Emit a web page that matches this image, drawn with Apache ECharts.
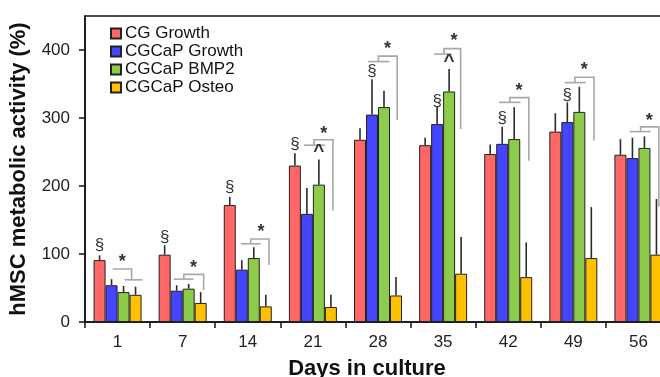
<!DOCTYPE html>
<html>
<head>
<meta charset="utf-8">
<script src="https://cdn.jsdelivr.net/npm/echarts@6/dist/echarts.min.js"></script>
<style>html,body{margin:0;padding:0;background:#fff}#c{width:660px;height:377px}</style>
</head>
<body>
<div id="c"></div>
<script>
const categories = ['1', '7', '14', '21', '28', '35', '42', '49', '56'];
const seriesNames = ['CG Growth', 'CGCaP Growth', 'CGCaP BMP2', 'CGCaP Osteo'];
const cgGrowth = [91, 99, 172, 230, 268, 260, 247, 280, 246];
const cgGrowthErr = [7, 14, 12, 18, 17, 11, 14, 27, 23];
const cgcapGrowth = [54, 46, 77, 159, 305, 291, 262, 294, 241];
const cgcapGrowthErr = [9, 8, 14, 38, 52, 26, 25, 29, 30];
const cgcapBmp2 = [44, 49, 94, 202, 316, 339, 269, 309, 256];
const cgcapBmp2Err = [9, 7, 16, 37, 24, 33, 47, 37, 17];
const cgcapOsteo = [40, 28, 23, 22, 39, 71, 66, 94, 99];
const cgcapOsteoErr = [12, 16, 17, 18, 27, 54, 51, 75, 82];
const yTicks = [0, 100, 200, 300, 400];

// annotations: [categoryIndex, barSlot, value]
const sectionMarks = [[0, 0, 113], [1, 0, 125], [2, 0, 198], [3, 0, 262], [4, 1, 369], [5, 1, 325], [6, 1, 300], [7, 1, 333]];
const caretMarks = [[3, 2, 250], [5, 2, 383]];
const starMarks = [[0, 1.9, 88], [1, 2.4, 79], [2, 2.6, 132], [3, 2.4, 276], [4, 2.3, 401], [5, 2.4, 413], [6, 2.4, 340], [7, 2.4, 370], [8, 2.4, 296]];
// brackets: [categoryIndex, polylines of [barSlot, value]]
const brackets = [
  [0, [[[1.1, 78], [2.67, 78], [2.67, 62]], [[2.08, 62], [3.58, 62]]]],
  [1, [[[0.75, 63], [2.4, 63]], [[1.6, 63], [1.6, 70], [3.25, 70], [3.25, 47]]]],
  [2, [[[0.92, 115], [2.58, 115]], [[1.75, 115], [1.75, 122], [3.27, 122], [3.27, 84]]]],
  [3, [[[0.75, 260], [2.5, 260]], [[1.6, 260], [1.6, 268], [3.17, 268], [3.17, 164]]]],
  [4, [[[0.69, 383], [2.47, 383]], [[1.53, 383], [1.53, 391], [3.1, 391], [3.1, 297]]]],
  [5, [[[0.73, 394], [2.2, 394]], [[1.57, 394], [1.57, 402], [2.96, 402], [2.96, 284]]]],
  [6, [[[0.73, 323], [2.53, 323]], [[1.64, 323], [1.64, 330], [3.22, 330], [3.22, 237]]]],
  [7, [[[0.78, 352], [2.53, 352]], [[1.63, 352], [1.63, 360], [3.22, 360], [3.22, 267]]]],
  [8, [[[0.77, 280], [2.52, 280]], [[1.68, 280], [1.68, 287], [3.2, 287], [3.2, 170]]]]
];

const BAR_W = 12;
const FONT = 'Liberation Sans, Arial, sans-serif';
const colors = ['#FF6666', '#4545FF', '#8CCC4A', '#FFC000'];
const values = [cgGrowth, cgcapGrowth, cgcapBmp2, cgcapOsteo];
const errs = [cgGrowthErr, cgcapGrowthErr, cgcapBmp2Err, cgcapOsteoErr];

function slotX(api, cat, slot, v) {
  const p = api.coord([cat, v]);
  return [p[0] + (slot - 1.5) * BAR_W, p[1]];
}

const barSeries = seriesNames.map((name, i) => ({
  name: name,
  type: 'bar',
  data: values[i],
  barWidth: BAR_W,
  barGap: '0%',
  itemStyle: { color: colors[i], borderColor: '#222', borderWidth: 1 },
  z: 2
}));

const errData = [];
values.forEach((arr, s) => arr.forEach((v, c) => errData.push([c, s, v, v + errs[s][c]])));

const errSeries = {
  type: 'custom',
  coordinateSystem: 'cartesian2d',
  data: errData,
  encode: { x: 0, y: 3 },
  z: 3,
  silent: true,
  renderItem: function (params, api) {
    const c = api.value(0), s = api.value(1);
    const a = slotX(api, c, s, api.value(2));
    const b = slotX(api, c, s, api.value(3));
    return { type: 'line', shape: { x1: a[0], y1: a[1], x2: b[0], y2: b[1] }, style: { stroke: '#2a2a2a', lineWidth: 1.6 } };
  }
};

const bracketSeries = {
  type: 'custom',
  coordinateSystem: 'cartesian2d',
  data: brackets.map((b, i) => [b[0], i]),
  z: 4,
  silent: true,
  renderItem: function (params, api) {
    const b = brackets[api.value(1)];
    return {
      type: 'group',
      children: b[1].map(pl => ({
        type: 'polyline',
        shape: { points: pl.map(pt => slotX(api, b[0], pt[0], pt[1])) },
        style: { stroke: '#A8A8A8', lineWidth: 1.6, fill: null }
      }))
    };
  }
};

function textSeries(marks, str, size, weight) {
  return {
    type: 'custom',
    coordinateSystem: 'cartesian2d',
    data: marks,
    z: 5,
    silent: true,
    renderItem: function (params, api) {
      const p = slotX(api, api.value(0), api.value(1), api.value(2));
      return { type: 'text', x: p[0], y: p[1], style: { text: str, fontSize: size, fontWeight: weight, fontFamily: FONT, fill: '#333', align: 'center', verticalAlign: 'middle' } };
    }
  };
}

const chart = echarts.init(document.getElementById('c'));
chart.setOption({
  animation: false,
  backgroundColor: '#fff',
  grid: { left: 85, top: 16, width: 586, height: 306, outerBoundsMode: 'none', containLabel: false, show: true, borderColor: '#111', borderWidth: 1.5, backgroundColor: 'transparent' },
  legend: {
    orient: 'vertical', left: 105, top: 20, itemWidth: 10, itemHeight: 10, itemGap: 1,
    icon: 'rect',
    data: seriesNames,
    textStyle: { fontSize: 17, color: '#111', fontFamily: FONT, padding: [0, 0, 0, -1] }
  },
  xAxis: {
    type: 'category', data: categories, boundaryGap: true,
    axisLine: { lineStyle: { color: '#111', width: 1.5 } },
    axisTick: { show: true, length: 6, lineStyle: { color: '#111', width: 1.5 }, interval: 0 },
    axisLabel: { fontSize: 17, color: '#222', margin: 12, fontFamily: FONT, interval: 0 },
    name: 'Days in culture', nameLocation: 'middle', nameGap: 36,
    nameTextStyle: { fontSize: 22, fontWeight: 'bold', color: '#111', fontFamily: FONT, padding: [0, 22, 0, 0] }
  },
  yAxis: {
    type: 'value', min: 0, max: 450, interval: 100,
    splitLine: { show: false },
    axisLine: { show: true, lineStyle: { color: '#111', width: 1.5 } },
    axisTick: { show: true, length: 6, lineStyle: { color: '#111', width: 1.5 }, customValues: yTicks },
    axisLabel: { fontSize: 17, color: '#222', margin: 15, fontFamily: FONT, customValues: yTicks },
    name: 'hMSC metabolic activity (%)', nameLocation: 'middle', nameGap: 55, nameRotate: 90,
    nameTextStyle: { fontSize: 22, fontWeight: 'bold', color: '#111', fontFamily: FONT }
  },
  series: barSeries.concat([
    errSeries,
    bracketSeries,
    textSeries(sectionMarks, '§', 17, 'normal'),
    textSeries(caretMarks, '^', 19, 'bold'),
    textSeries(starMarks, '*', 18, 'bold')
  ])
});
</script>
</body>
</html>
